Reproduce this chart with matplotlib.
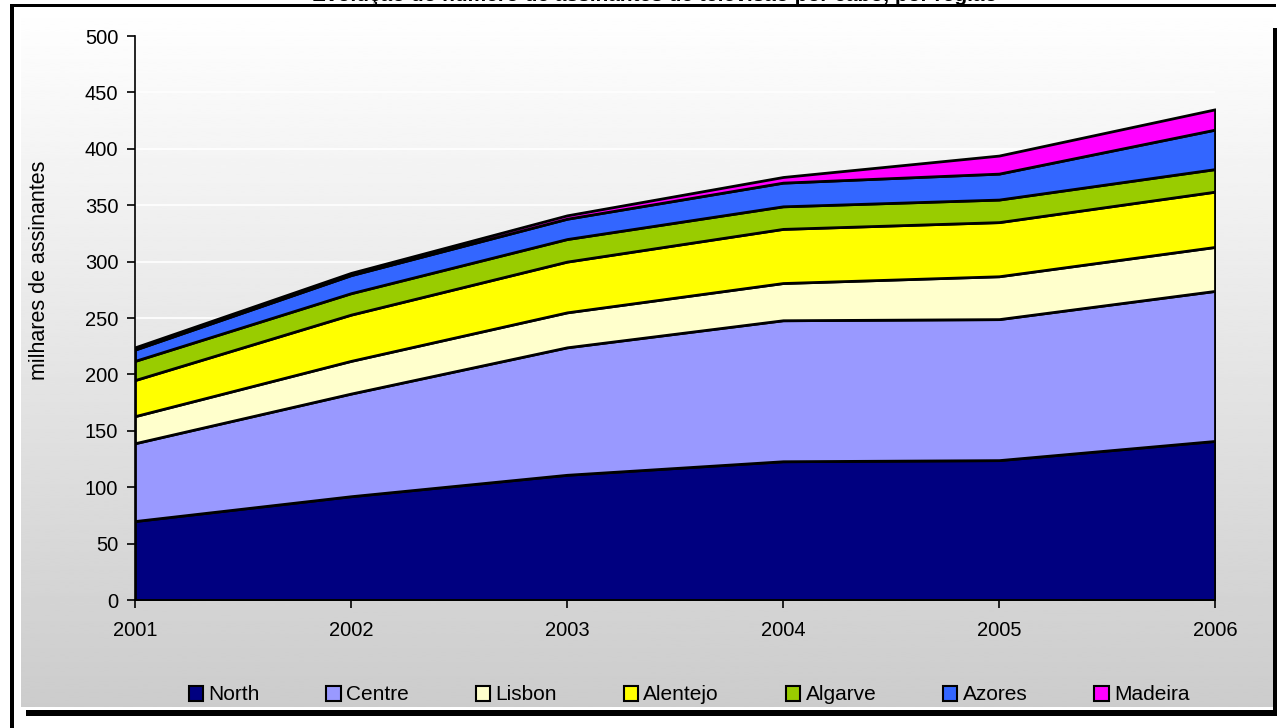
import numpy as np
import matplotlib
matplotlib.use("Agg")
import matplotlib.pyplot as plt
from matplotlib.patches import Rectangle

plt.rcParams['font.family'] = ['Liberation Sans', 'DejaVu Sans']

# Subscribers (thousands) per region and year
years = [2001, 2002, 2003, 2004, 2005, 2006]
regions = ["North", "Centre", "Lisbon", "Alentejo", "Algarve", "Azores", "Madeira"]
north = [70, 92, 111, 123, 124, 141]
centre = [69, 91, 113, 125, 125, 133]
lisbon = [24, 29, 31, 33, 38, 39]
alentejo = [32, 41, 45, 48, 48, 49]
algarve = [17, 19, 20, 20, 20, 20]
azores = [10, 16, 18, 21, 23, 35]
madeira = [2, 2, 3, 5, 16, 18]
colors = ["#000080", "#9999FF", "#FFFFCC", "#FFFF00", "#99CC00", "#3366FF", "#FF00FF"]

W, H = 1281, 728
fig = plt.figure(figsize=(W / 100, H / 100), dpi=100)
fig.patch.set_facecolor("white")

# Background layer in pixel coordinates: gradient panel, frame and shadow
bg = fig.add_axes([0, 0, 1, 1])
bg.set_xlim(0, W)
bg.set_ylim(H, 0)
bg.axis("off")
grad = np.linspace(1.0, 0.80, 256).reshape(-1, 1)
bg.imshow(grad, cmap="gray", vmin=0, vmax=1, aspect="auto",
          extent=(21, 1273, 707, 6), interpolation="bilinear")
bg.add_patch(Rectangle((10, 4), 1266, 2.5, color="black", lw=0))
bg.add_patch(Rectangle((10, 4), 4, 724, color="black", lw=0))
bg.add_patch(Rectangle((1273, 28), 4, 688, color="black", lw=0))
bg.add_patch(Rectangle((26, 710), 1251, 6, color="black", lw=0))
bg.text(655, 1.0, "Evolução do número de assinantes de televisão por cabo, por região",
        ha="center", va="baseline", fontsize=15, fontweight="bold", clip_on=False)

# Plot area
ax = fig.add_axes([135 / W, 1 - 600 / H, 1080 / W, 564 / H])
ax.set_facecolor("none")
series = [north, centre, lisbon, alentejo, algarve, azores, madeira]
ax.stackplot(years, *series, labels=regions, colors=colors,
             edgecolor="black", linewidth=2, zorder=3)

ax.set_xlim(2001, 2006)
ax.set_ylim(0, 500)
ax.set_yticks(np.arange(0, 501, 50))
ax.set_xticks(years)
ax.yaxis.grid(True, color="white", linewidth=1.2, zorder=0)
ax.set_axisbelow(True)
for s in ("top", "right"):
    ax.spines[s].set_visible(False)
for s in ("left", "bottom"):
    ax.spines[s].set_linewidth(1.2)
    ax.spines[s].set_zorder(5)
ax.tick_params(axis="both", direction="out", length=6, width=1.2,
               labelsize=14.5, colors="black")
ax.tick_params(axis="y", pad=6)
ax.tick_params(axis="x", pad=9)
ax.set_ylabel("milhares de assinantes", fontsize=15.5, va="center")
ax.yaxis.set_label_coords(-0.088, 0.585)

handles = [Rectangle((0, 0), 1, 1, facecolor=c, edgecolor="black", lw=1.5) for c in colors]
fig.legend(handles, regions, loc="center", bbox_to_anchor=(689 / W, 1 - 695 / H),
           ncol=7, frameon=False, fontsize=15, handlelength=0.7, handleheight=0.7,
           handletextpad=0.25, columnspacing=3.2, borderpad=0)

fig.savefig("out.png", dpi=100)
